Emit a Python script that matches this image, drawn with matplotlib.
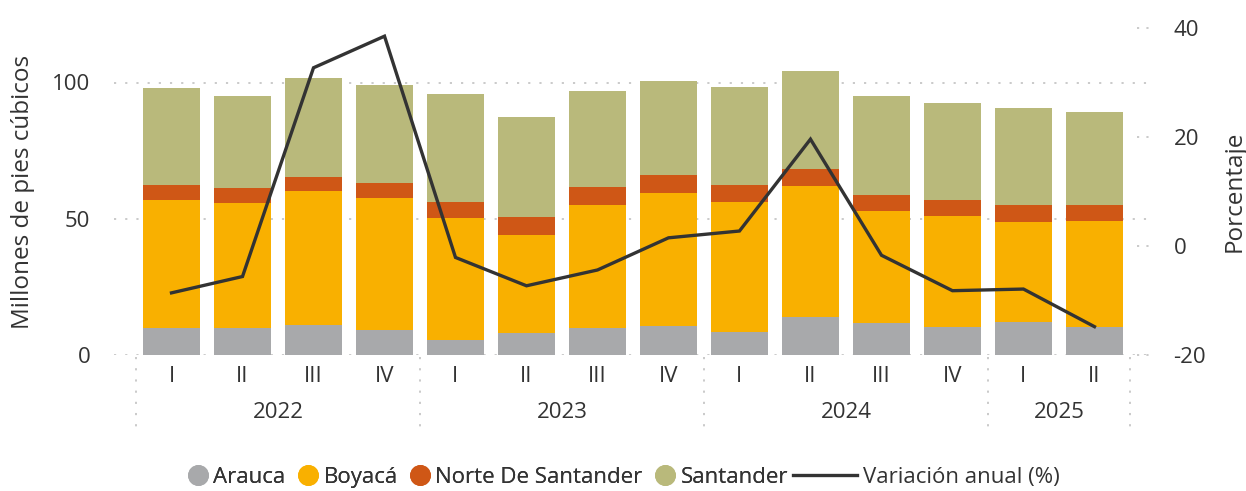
import matplotlib
matplotlib.use("Agg")
import matplotlib.pyplot as plt
import matplotlib.transforms as mtransforms
from matplotlib.lines import Line2D

# datos (millones de pies cúbicos) por trimestre
trimestres = ["I", "II", "III", "IV", "I", "II", "III", "IV", "I", "II", "III", "IV", "I", "II"]
anios = ["2022", "2023", "2024", "2025"]
trim_por_anio = [4, 4, 4, 2]

arauca = [10.0, 10.0, 11.0, 9.3, 5.6, 8.1, 10.0, 10.7, 8.5, 13.9, 11.7, 10.3, 12.2, 10.3]
boyaca = [46.8, 45.7, 49.1, 48.2, 44.6, 35.9, 44.9, 48.6, 47.5, 48.0, 41.0, 40.6, 36.5, 38.8]
norte = [5.5, 5.5, 5.1, 5.5, 5.8, 6.5, 6.6, 6.6, 6.3, 6.2, 5.9, 5.9, 6.2, 5.8]
santander = [35.5, 33.7, 36.3, 35.9, 39.6, 37.0, 35.2, 34.5, 35.9, 36.3, 36.6, 35.5, 35.6, 34.1]
variacion = [-8.6, -5.6, 32.7, 38.5, -2.1, -7.3, -4.4, 1.5, 2.75, 19.6, -1.7, -8.2, -7.9, -14.8]

c_arauca = "#A8A9AB"
c_boyaca = "#F9B000"
c_norte = "#CF5716"
c_santander = "#B9B97B"
c_linea = "#333333"
c_texto = "#333333"
c_grid = "#C6C6C6"

plt.rcParams["font.family"] = ["Open Sans", "DejaVu Sans"]
plt.rcParams["font.size"] = 16
plt.rcParams["axes.unicode_minus"] = False

fig = plt.figure(figsize=(12.46, 4.91), dpi=100)
ax = fig.add_axes([114 / 1246, 1 - 355 / 491, (1147 - 114) / 1246, (355 - 28) / 491])
ax2 = ax.twinx()

x = list(range(len(trimestres)))
ancho = 0.8
base = [0] * len(x)
for vals, col in [(arauca, c_arauca), (boyaca, c_boyaca), (norte, c_norte), (santander, c_santander)]:
    ax.bar(x, vals, width=ancho, bottom=base, color=col, zorder=2, linewidth=0)
    base = [b + v for b, v in zip(base, vals)]

ax.set_ylim(0, 120)
ax.set_yticks([0, 50, 100])
ax.set_xlim(-0.81, 13.74)
for v in [0, 50, 100]:
    ax.axhline(v, color=c_grid, lw=1.3, ls=(0, (1.2, 5)), zorder=1)

ax2.plot(x, variacion, color=c_linea, lw=2.4, zorder=5, solid_joinstyle="miter")
ax2.set_ylim(-20, 40)
ax2.set_yticks([-20, 0, 20, 40])

for a in (ax, ax2):
    for s in a.spines.values():
        s.set_visible(False)
    a.tick_params(length=0, colors=c_texto, labelsize=16)
ax.tick_params(axis="y", pad=17)
ax2.tick_params(axis="y", pad=19)
ax.set_ylabel("Millones de pies cúbicos", color=c_texto, fontsize=17.5, labelpad=12)
ax2.set_ylabel("Porcentaje", color=c_texto, fontsize=17.5, labelpad=12)

# marcas punteadas cortas del eje derecho
tr2 = mtransforms.blended_transform_factory(ax2.transAxes, ax2.transData)
for v in [-20, 0, 20, 40]:
    ax2.plot([0.99, 1.005], [v, v], transform=tr2, color=c_grid, lw=1.3,
             ls=(0, (1.2, 4)), clip_on=False)

# etiquetas de trimestre y año
ax.set_xticks(x)
ax.set_xticklabels(trimestres)
ax.tick_params(axis="x", pad=8)
trx = mtransforms.blended_transform_factory(ax.transData, ax.transAxes)
inicio = -0.5
bordes = [inicio]
for anio, n in zip(anios, trim_por_anio):
    fin = inicio + n
    ax.text((inicio + fin) / 2, -0.177, anio, transform=trx, ha="center", va="center",
            color=c_texto, fontsize=16)
    bordes.append(fin)
    inicio = fin
for b in bordes:
    ax.plot([b, b], [-0.006, -0.24], transform=trx, color=c_grid, lw=1.3,
            ls=(0, (1.2, 5)), clip_on=False)

# leyenda
h1 = [Line2D([], [], ls="", marker="o", ms=14, color=c) for c in [c_arauca, c_boyaca, c_norte, c_santander]]
leg1 = fig.legend(h1, ["Arauca", "Boyacá", "Norte De Santander", "Santander"], ncol=4,
                  loc="center right", bbox_to_anchor=(788 / 1246, 0.028), frameon=False,
                  handlelength=1.0, handletextpad=0.2, columnspacing=0.5, borderpad=0,
                  borderaxespad=0, fontsize=16, labelcolor=c_texto)
h2 = [Line2D([], [], color=c_linea, lw=2.4)]
leg2 = fig.legend(h2, ["Variación anual (%)"], loc="center left",
                  bbox_to_anchor=(793 / 1246, 0.028), frameon=False, handlelength=2.9,
                  handletextpad=0.25, borderpad=0, borderaxespad=0, fontsize=16,
                  labelcolor=c_texto)
fig.add_artist(leg1)

fig.savefig("out.png", dpi=100)
